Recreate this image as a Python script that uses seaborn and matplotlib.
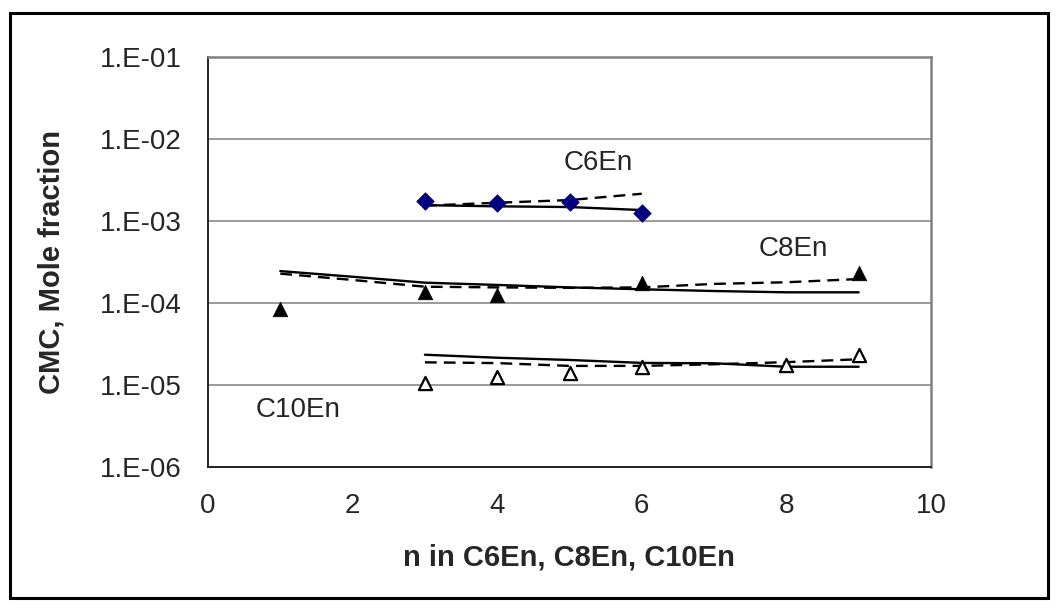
import numpy as np
import pandas as pd
import matplotlib
matplotlib.use("Agg")
import matplotlib.pyplot as plt
from matplotlib.ticker import FuncFormatter, NullLocator, FixedLocator
from matplotlib.patches import Rectangle
import seaborn as sns

# Measured CMC (mole fraction) against ethylene-oxide number n
c6_n = [3, 4, 5, 6]
c6_cmc = [1.75e-3, 1.66e-3, 1.70e-3, 1.25e-3]
c8_n = [1, 3, 4, 6, 9]
c8_cmc = [8.5e-5, 1.35e-4, 1.25e-4, 1.77e-4, 2.3e-4]
c10_n = [3, 4, 5, 6, 8, 9]
c10_cmc = [1.05e-5, 1.24e-5, 1.39e-5, 1.64e-5, 1.74e-5, 2.32e-5]

# Model curves: solid and dashed predictions
c6_fit_n = [3, 4, 5, 6]
c6_solid = [1.56e-3, 1.51e-3, 1.48e-3, 1.36e-3]
c6_dashed = [1.54e-3, 1.67e-3, 1.80e-3, 2.15e-3]

c8_fit_n = [1, 2, 3, 4, 5, 6, 7, 8, 9]
c8_solid = [2.45e-4, 2.09e-4, 1.77e-4, 1.66e-4, 1.55e-4, 1.47e-4, 1.40e-4, 1.35e-4, 1.35e-4]
c8_dashed = [2.28e-4, 1.91e-4, 1.58e-4, 1.55e-4, 1.53e-4, 1.55e-4, 1.71e-4, 1.79e-4, 1.96e-4]

c10_fit_n = [3, 4, 5, 6, 7, 8, 9]
c10_solid = [2.34e-5, 2.15e-5, 2.02e-5, 1.86e-5, 1.84e-5, 1.67e-5, 1.67e-5]
c10_dashed = [1.89e-5, 1.85e-5, 1.71e-5, 1.71e-5, 1.79e-5, 1.90e-5, 2.06e-5]

x_ticks = [0, 2, 4, 6, 8, 10]
y_ticks = [1e-6, 1e-5, 1e-4, 1e-3, 1e-2, 1e-1]

sns.set_style("white")
plt.rcParams["font.family"] = ["Liberation Sans", "DejaVu Sans"]

W, H = 1056, 610
fig = plt.figure(figsize=(W / 100, H / 100), dpi=100)
ax = fig.add_axes([208 / W, 1 - 467 / H, (931 - 208) / W, (467 - 57) / H])

# Outer chart border
fig.patches.append(Rectangle((10 / W, 12 / H), (1048 - 10) / W, (597 - 12) / H,
                             transform=fig.transFigure, fill=False,
                             edgecolor="black", linewidth=2.2))

line_kw = dict(color="black", linewidth=1.7, estimator=None, sort=False, ax=ax, legend=False)
for xs, ys in [(c6_fit_n, c6_solid), (c8_fit_n, c8_solid), (c10_fit_n, c10_solid)]:
    sns.lineplot(x=xs, y=ys, linestyle="-", **line_kw)
for xs, ys in [(c6_fit_n, c6_dashed), (c8_fit_n, c8_dashed), (c10_fit_n, c10_dashed)]:
    sns.lineplot(x=xs, y=ys, linestyle=(0, (5, 3)), **line_kw)

sns.scatterplot(x=c6_n, y=c6_cmc, marker="D", s=80, color="#000080",
                edgecolor="#000080", linewidth=0.5, ax=ax, zorder=5, legend=False)
sns.scatterplot(x=c8_n, y=c8_cmc, marker="^", s=110, color="black",
                edgecolor="black", linewidth=0.5, ax=ax, zorder=5, legend=False)
sns.scatterplot(x=c10_n, y=c10_cmc, marker="^", s=90, facecolor="white",
                edgecolor="black", linewidth=1.6, ax=ax, zorder=5, legend=False)

ax.set_yscale("log")
ax.set_xlim(0, 10)
ax.set_ylim(1e-6, 1e-1)
ax.xaxis.set_major_locator(FixedLocator(x_ticks))
ax.yaxis.set_major_locator(FixedLocator(y_ticks))
ax.yaxis.set_minor_locator(NullLocator())
ax.yaxis.set_major_formatter(FuncFormatter(lambda v, p: "1.E-%02d" % round(-np.log10(v))))

ax.grid(axis="y", color="#808080", linewidth=1.1)
ax.grid(axis="x", visible=False)
ax.set_axisbelow(True)

ax.tick_params(axis="both", which="major", direction="out", length=7, width=1.2,
               color="black", labelsize=20, pad=12)
for side in ["top", "right"]:
    ax.spines[side].set_color("#808080")
    ax.spines[side].set_linewidth(1.8)
for side in ["left", "bottom"]:
    ax.spines[side].set_color("#222222")
    ax.spines[side].set_linewidth(1.4)

# Axis titles
fig.text(569 / W, 1 - 558 / H, "n in C6En, C8En, C10En", fontsize=21,
         fontweight="bold", ha="center", va="center")
fig.text(52 / W, 1 - 262 / H, "CMC, Mole fraction", fontsize=21,
         fontweight="bold", ha="center", va="center", rotation=90)

# Series labels
ax.text(5.4, 10 ** (-1 - (163 - 57) / 82), "C6En", fontsize=20, ha="center", va="center")
ax.text(8.1, 10 ** (-1 - (249 - 57) / 82), "C8En", fontsize=20, ha="center", va="center")
ax.text(1.25, 10 ** (-1 - (410 - 57) / 82), "C10En", fontsize=20, ha="center", va="center")

fig.savefig("out.png", dpi=100)
